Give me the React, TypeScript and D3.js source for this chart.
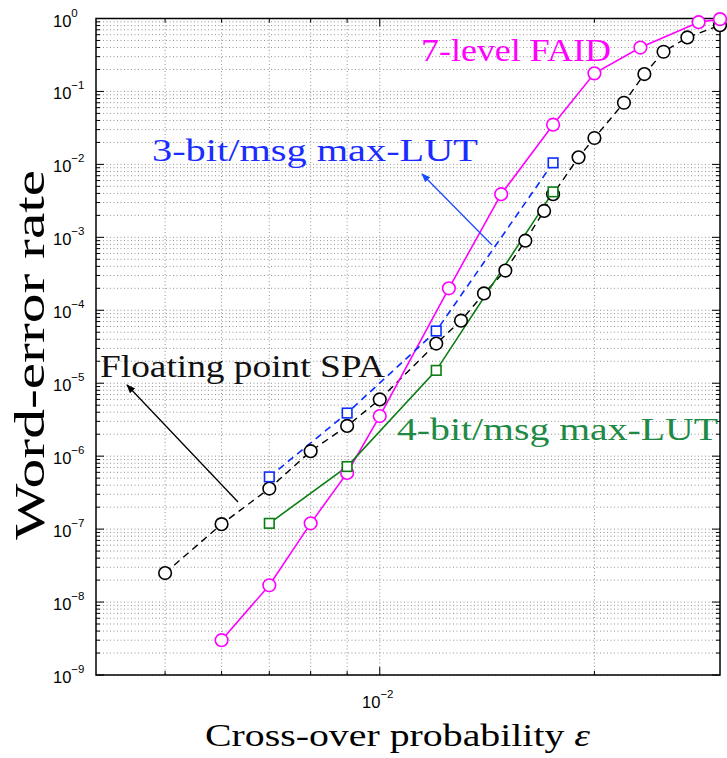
import React from "react";
import * as d3 from "d3";

// ---- data ----
const spaX = [0.005, 0.006, 0.007, 0.008, 0.009, 0.010, 0.012, 0.013, 0.014, 0.015, 0.016, 0.017, 0.0175, 0.019, 0.020, 0.022, 0.0235, 0.025, 0.027, 0.030];
const spaY = [2.5e-8, 1.17e-7, 3.6e-7, 1.17e-6, 2.6e-6, 6e-6, 3.5e-5, 7.2e-5, 1.7e-4, 3.5e-4, 9e-4, 2.3e-3, 3.9e-3, 1.25e-2, 2.3e-2, 7e-2, 1.73e-1, 3.5e-1, 5.5e-1, 8.1e-1];

const faidX = [0.006, 0.007, 0.008, 0.009, 0.010, 0.0125, 0.0148, 0.0175, 0.020, 0.0232, 0.028, 0.030];
const faidY = [3e-9, 1.7e-8, 1.2e-7, 5.9e-7, 3.55e-6, 2e-4, 3.9e-3, 3.5e-2, 1.77e-1, 4e-1, 8.9e-1, 9.8e-1];

const lut3X = [0.007, 0.009, 0.012, 0.0175];
const lut3Y = [5.2e-7, 3.9e-6, 5.2e-5, 1.05e-2];

const lut4X = [0.007, 0.009, 0.012, 0.0175];
const lut4Y = [1.2e-7, 7.2e-7, 1.5e-5, 4.2e-3];

const xDomain = [0.004, 0.03];
const yDomain = [1e-9, 1];
const yTickExps = [0, -1, -2, -3, -4, -5, -6, -7, -8, -9];
const xMajorTicks = [0.01];
const xMinorTicks = [0.005, 0.006, 0.007, 0.008, 0.009, 0.02];

const labels = {
  faid: "7-level FAID",
  lut3: "3-bit/msg max-LUT",
  spa: "Floating point SPA",
  lut4: "4-bit/msg max-LUT",
  xTitle: "Cross-over probability ",
  yTitle: "Word-error rate",
};

const W = 727, H = 758;
const L = 96, R = 720, T = 18.5, B = 675;

export default function App() {
  const x = d3.scaleLog().domain(xDomain).range([L, R]);
  const y = d3.scaleLog().domain(yDomain).range([B, T]);

  const yMinor: number[] = [];
  for (let e = -9; e < 0; e++) for (let k = 2; k <= 9; k++) yMinor.push(k * Math.pow(10, e));

  const line = (xs: number[], ys: number[]) =>
    d3.line<number>().x((_, i) => x(xs[i])).y((d) => y(d))(ys) || "";

  const serif = "'Liberation Serif', 'DejaVu Serif', serif";
  const sans = "'Liberation Sans', Arial, sans-serif";
  const gridStyle = { stroke: "#777", strokeWidth: 0.8, strokeDasharray: "1 2.5" };

  const circles = (xs: number[], ys: number[], color: string) =>
    ys.map((v, i) => (
      <circle key={i} cx={x(xs[i])} cy={y(v)} r={6.3} fill="white" stroke={color} strokeWidth={1.6} />
    ));
  const squares = (xs: number[], ys: number[], color: string) =>
    ys.map((v, i) => (
      <rect key={i} x={x(xs[i]) - 4.8} y={y(v) - 4.8} width={9.6} height={9.6} fill="white" stroke={color} strokeWidth={1.6} />
    ));

  return (
    <svg width={W} height={H} style={{ position: "absolute", left: 0, top: 0, background: "white" }}>
      <defs>
        <marker id="ahBlack" viewBox="0 0 10 10" refX="9" refY="5" markerWidth="9" markerHeight="9" orient="auto" markerUnits="userSpaceOnUse">
          <path d="M0,1 L10,5 L0,9 z" fill="black" />
        </marker>
        <marker id="ahBlue" viewBox="0 0 10 10" refX="9" refY="5" markerWidth="9" markerHeight="9" orient="auto" markerUnits="userSpaceOnUse">
          <path d="M0,1 L10,5 L0,9 z" fill="#1a4cff" />
        </marker>
      </defs>
      <rect x={0} y={0} width={W} height={H} fill="white" />

      {/* grid */}
      {yMinor.map((v, i) => (
        <line key={"ym" + i} x1={L} x2={R} y1={y(v)} y2={y(v)} style={gridStyle} />
      ))}
      {yTickExps.map((e) => (
        <line key={"yM" + e} x1={L} x2={R} y1={y(Math.pow(10, e))} y2={y(Math.pow(10, e))} style={gridStyle} />
      ))}
      {[...xMinorTicks, ...xMajorTicks].map((v, i) => (
        <line key={"xg" + i} x1={x(v)} x2={x(v)} y1={T} y2={B} style={gridStyle} />
      ))}

      {/* ticks */}
      {yMinor.map((v, i) => (
        <g key={"ymt" + i}>
          <line x1={L} x2={L + 4} y1={y(v)} y2={y(v)} stroke="black" />
          <line x1={R} x2={R - 4} y1={y(v)} y2={y(v)} stroke="black" />
        </g>
      ))}
      {yTickExps.map((e) => (
        <g key={"yMt" + e}>
          <line x1={L} x2={L + 8} y1={y(Math.pow(10, e))} y2={y(Math.pow(10, e))} stroke="black" />
          <line x1={R} x2={R - 8} y1={y(Math.pow(10, e))} y2={y(Math.pow(10, e))} stroke="black" />
        </g>
      ))}
      {xMinorTicks.map((v, i) => (
        <g key={"xmt" + i}>
          <line x1={x(v)} x2={x(v)} y1={B} y2={B - 4} stroke="black" />
          <line x1={x(v)} x2={x(v)} y1={T} y2={T + 4} stroke="black" />
        </g>
      ))}
      {xMajorTicks.map((v, i) => (
        <g key={"xMt" + i}>
          <line x1={x(v)} x2={x(v)} y1={B} y2={B - 8} stroke="black" />
          <line x1={x(v)} x2={x(v)} y1={T} y2={T + 8} stroke="black" />
        </g>
      ))}

      {/* frame */}
      <rect x={L} y={T} width={R - L} height={B - T} fill="none" stroke="black" strokeWidth={1.5} />

      {/* tick labels */}
      {yTickExps.map((e) => (
        <text key={"yl" + e} x={53} y={y(Math.pow(10, e)) + 8} fontFamily={sans} fontSize={16.5} fill="black">
          10
          <tspan dy={-10} fontSize={11.5}>{e === 0 ? "0" : "\u2212" + Math.abs(e)}</tspan>
        </text>
      ))}
      {xMajorTicks.map((v, i) => (
        <text key={"xl" + i} x={x(v) - 2} y={B + 33} fontFamily={sans} fontSize={16.5} textAnchor="middle" fill="black">
          10
          <tspan dy={-10} fontSize={11.5}>{"\u2212" + Math.round(-Math.log10(v))}</tspan>
        </text>
      ))}

      {/* series */}
      <path d={line(spaX, spaY)} fill="none" stroke="black" strokeWidth={1.4} strokeDasharray="7 5" />
      <path d={line(faidX, faidY)} fill="none" stroke="#ff00ff" strokeWidth={1.6} />
      <path d={line(lut3X, lut3Y)} fill="none" stroke="#0a2cff" strokeWidth={1.6} strokeDasharray="7 5" />
      <path d={line(lut4X, lut4Y)} fill="none" stroke="#0b7d12" strokeWidth={1.6} />
      {circles(spaX, spaY, "black")}
      {circles(faidX, faidY, "#ff00ff")}
      {squares(lut3X, lut3Y, "#0a2cff")}
      {squares(lut4X, lut4Y, "#0b7d12")}

      {/* annotations */}
      <line x1={238} y1={502} x2={127} y2={385} stroke="black" strokeWidth={1.3} markerEnd="url(#ahBlack)" />
      <line x1={492} y1={245} x2={422} y2={174} stroke="#1a4cff" strokeWidth={1.3} markerEnd="url(#ahBlue)" />

      <text x={421} y={61} fontFamily={serif} fontSize={32} fill="#ff00ff" textLength={190} lengthAdjust="spacingAndGlyphs">{labels.faid}</text>
      <text x={152} y={161} fontFamily={serif} fontSize={32} fill="#1a2cff" textLength={326} lengthAdjust="spacingAndGlyphs">{labels.lut3}</text>
      <text x={100} y={377} fontFamily={serif} fontSize={32} fill="#111" textLength={285} lengthAdjust="spacingAndGlyphs">{labels.spa}</text>
      <text x={397} y={440} fontFamily={serif} fontSize={32} fill="#1f8a45" textLength={321} lengthAdjust="spacingAndGlyphs">{labels.lut4}</text>

      <text x={205} y={746} fontFamily={serif} fontSize={32} fill="black" textLength={385} lengthAdjust="spacingAndGlyphs">
        {labels.xTitle}
        <tspan fontStyle="italic">ε</tspan>
      </text>
      <text transform={`translate(44, ${(T + B) / 2 + 8}) rotate(-90)`} fontFamily={serif} fontSize={42} textAnchor="middle" fill="black" textLength={370} lengthAdjust="spacingAndGlyphs">
        {labels.yTitle}
      </text>
    </svg>
  );
}
